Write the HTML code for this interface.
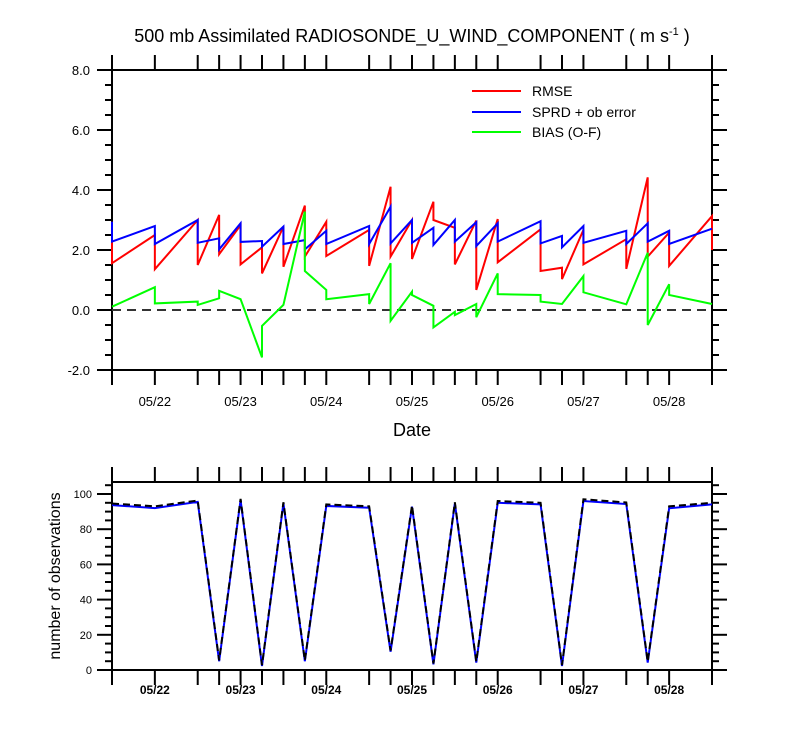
<!DOCTYPE html>
<html><head><meta charset="utf-8"><style>
body{margin:0;background:#fff;}
svg text{font-family:"Liberation Sans",sans-serif;fill:#000;}
</style></head><body>
<svg id="c" width="800" height="750" xmlns="http://www.w3.org/2000/svg">
<text x="412" y="42" font-size="18" text-anchor="middle">500 mb Assimilated RADIOSONDE_U_WIND_COMPONENT ( m s<tspan dy="-7" font-size="11">-1</tspan><tspan dy="7"> )</tspan></text>
<text x="412" y="436" font-size="18" text-anchor="middle">Date</text>
<text transform="translate(60,576) rotate(-90)" font-size="16" text-anchor="middle">number of observations</text>
<g id="topPlot"></g><g id="botPlot"></g>
<g>
<line x1="472" y1="91" x2="521" y2="91" stroke="#f00" stroke-width="2"/>
<text x="532" y="96" font-size="14">RMSE</text>
<line x1="472" y1="112" x2="521" y2="112" stroke="#00f" stroke-width="2"/>
<text x="532" y="117" font-size="14">SPRD + ob error</text>
<line x1="472" y1="132" x2="521" y2="132" stroke="#0f0" stroke-width="2"/>
<text x="532" y="137" font-size="14">BIAS (O-F)</text>
</g>
</svg>
<script>
const times=[21.5,22.0,22.5,22.75,23.0,23.25,23.5,23.75,24.0,24.5,24.75,25.0,25.25,25.5,25.75,26.0,26.5,26.75,27.0,27.5,27.75,28.0,28.5];
const dateTicks=[22,23,24,25,26,27,28];
const dateLabels=["05/22","05/23","05/24","05/25","05/26","05/27","05/28"];
const rmseIn=[2.94,2.5,3.0,3.17,2.83,2.09,2.78,3.48,2.94,2.67,4.11,3.0,3.61,2.74,2.98,3.03,2.69,1.41,2.67,2.36,4.42,2.58,3.13];
const rmseOut=[1.56,1.36,1.5,1.86,1.52,1.22,1.44,1.78,1.8,1.47,1.78,1.7,3.0,1.52,0.67,1.59,1.3,1.03,1.52,1.37,1.78,1.47,2.0];
const sprdIn=[2.94,2.8,3.0,2.39,2.89,2.3,2.78,2.33,2.64,2.8,3.44,3.0,2.74,3.0,2.93,2.89,2.96,2.47,2.8,2.64,2.89,2.64,2.71];
const sprdOut=[2.28,2.2,2.24,2.02,2.27,2.11,2.2,2.02,2.2,2.2,2.22,2.24,2.17,2.28,2.13,2.28,2.22,2.09,2.24,2.2,2.28,2.2,2.71];
const biasIn=[0.11,0.76,0.28,0.39,0.36,-1.58,0.17,3.28,0.67,0.53,1.56,0.61,0.14,-0.06,0.2,1.22,0.5,0.2,1.13,0.19,1.91,0.86,0.2];
const biasOut=[0.11,0.22,0.17,0.64,0.36,-0.53,0.17,1.3,0.36,0.2,-0.36,0.5,-0.58,-0.17,-0.24,0.53,0.28,0.2,0.59,0.19,-0.5,0.5,0.2];
const obsUsed=[93.7,92,95.5,5,96.6,2.3,94.7,5,93.2,92.2,10.4,92.8,3.2,94.7,4.2,95,94.1,2.3,96,94.3,4.2,91.9,94.1];
const obsTotal=[94.6,93,96.3,5.5,97.2,2.8,95.3,5.5,94.1,93,11,93.5,3.7,95.3,4.8,96,95,2.8,97,95.2,4.8,93,95];
const topYTicks=[-2,0,2,4,6,8];
const topYLabels=["-2.0","0.0","2.0","4.0","6.0","8.0"];
const botYTicks=[0,20,40,60,80,100];
const botYLabels=["0","20","40","60","80","100"];

const NS="http://www.w3.org/2000/svg";
const X0=112,X1=712,T0=21.5,T1=28.5;
const xs=t=>X0+(t-T0)/(T1-T0)*(X1-X0);
const yTop=v=>370-(v+2)*30;
const yBot=v=>670-v*1.76;
function mk(tag,attrs,parent){const e=document.createElementNS(NS,tag);for(const k in attrs)e.setAttribute(k,attrs[k]);parent.appendChild(e);return e;}
function ln(p,x1,y1,x2,y2,w){return mk('line',{x1:x1,y1:y1,x2:x2,y2:y2,stroke:'#000','stroke-width':w||1.5},p);}

function frame(g,yT,yB,yfun,yticks,ylabels,minorStep,vmin,vmax,fs,bold){
  mk('rect',{x:X0,y:yT,width:X1-X0,height:yB-yT,fill:'none',stroke:'#000','stroke-width':2},g);
  times.forEach(t=>{const x=xs(t);
    ln(g,x,yT,x,yT-15,2);ln(g,x,yB,x,yB+15,2);});
  dateTicks.forEach((t,i)=>{const lb=mk('text',{x:xs(t),y:yB+(bold?24:36),'font-size':fs,'text-anchor':'middle','font-weight':bold?'bold':'normal'},g);lb.textContent=dateLabels[i];
    
    });
  for(let v=vmin;v<=vmax+1e-9;v+=minorStep){const y=yfun(v);const maj=yticks.some(m=>Math.abs(m-v)<1e-6);const L=maj?15:7;
    ln(g,X0,y,X0-L,y,2);ln(g,X1,y,X1+L,y,2);}
  yticks.forEach((v,i)=>{const lb=mk('text',{x:X0-(bold?20:22),y:yfun(v)+(bold?4:5),'font-size':bold?11:13,'text-anchor':'end'},g);lb.textContent=ylabels[i];
    
    });
}
function pair(inArr,outArr,yfun){let d='';times.forEach((t,i)=>{const x=xs(t);d+=(i?'L':'M')+x+','+yfun(inArr[i])+'L'+x+','+yfun(outArr[i]);});return d;}

const gTop=document.getElementById('topPlot');
frame(gTop,70,370,yTop,topYTicks,topYLabels,0.5,-2,8,13,false);
const zl=mk('line',{x1:X0,y1:yTop(0),x2:X1,y2:yTop(0),stroke:'#333','stroke-width':2,'stroke-dasharray':'9,6'},gTop);


const pr=mk('path',{d:pair(rmseIn,rmseOut,yTop),fill:'none',stroke:'#f00','stroke-width':2},gTop);


const ps=mk('path',{d:pair(sprdIn,sprdOut,yTop),fill:'none',stroke:'#00f','stroke-width':2},gTop);


const pb=mk('path',{d:pair(biasIn,biasOut,yTop),fill:'none',stroke:'#0f0','stroke-width':2},gTop);



const gBot=document.getElementById('botPlot');
frame(gBot,482,670,yBot,botYTicks,botYLabels,5,0,105,12,true);
const dT=times.map((t,i)=>(i?'L':'M')+xs(t)+','+yBot(obsTotal[i])).join('');
const dU=times.map((t,i)=>(i?'L':'M')+xs(t)+','+yBot(obsUsed[i])).join('');
const pu=mk('path',{d:dU,fill:'none',stroke:'#00f','stroke-width':2},gBot);


const pt=mk('path',{d:dT,fill:'none',stroke:'#000','stroke-width':2,'stroke-dasharray':'7,4'},gBot);


</script>
</body></html>
